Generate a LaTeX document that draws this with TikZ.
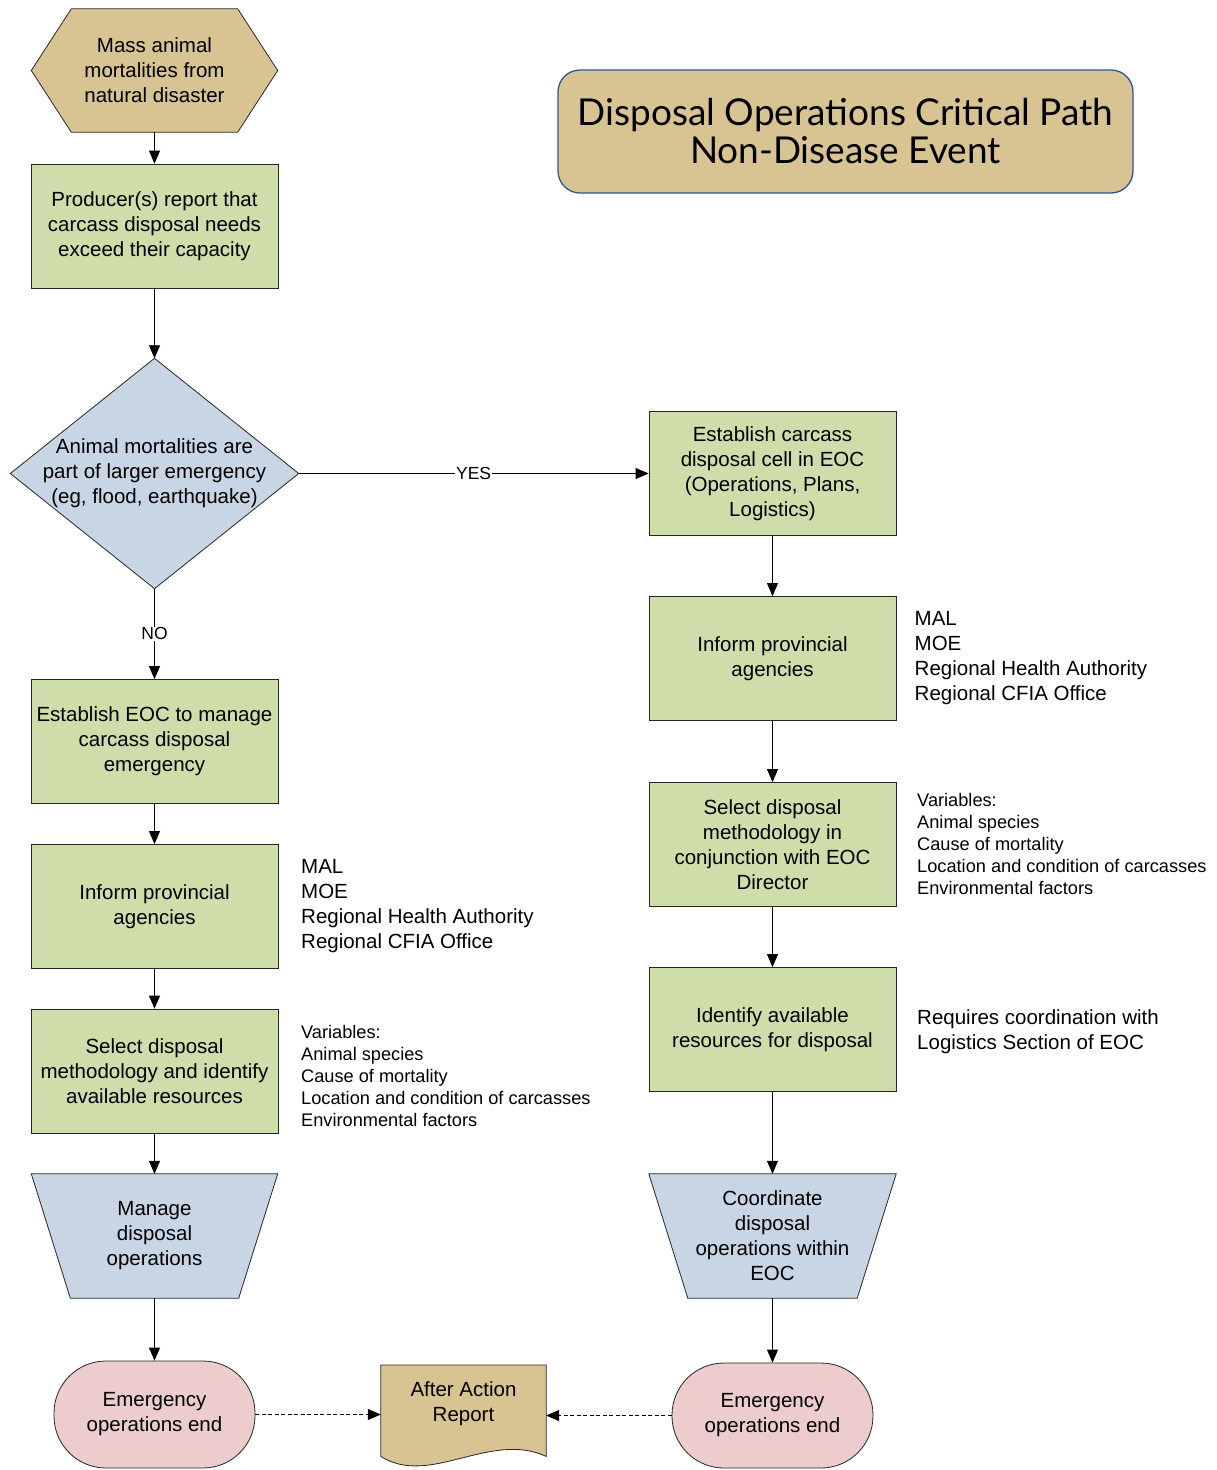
\documentclass[tikz,border=0pt]{standalone}
\usepackage{fontspec}
\setmainfont{Liberation Sans}
\newfontfamily\titlefont{Lato}
\usetikzlibrary{arrows.meta,calc,backgrounds}

\definecolor{stepgreen}{RGB}{206,221,170}
\definecolor{decisionblue}{RGB}{200,213,228}
\definecolor{eventtan}{RGB}{216,195,146}
\definecolor{endpink}{RGB}{236,204,204}
\definecolor{titleborder}{RGB}{47,85,151}

\begin{document}
\begin{tikzpicture}[x=1pt,y=-1pt,
  boxfont/.style={font=\fontsize{20.5}{25}\selectfont},
  notefont/.style={font=\fontsize{18.2}{22}\selectfont},
  outline/.style={draw=black!85, line width=0.8pt},
  stepbox/.style={outline, fill=stepgreen, boxfont, align=center, inner sep=0pt,
    minimum width=247pt, minimum height=124pt},
  ghost/.style={boxfont, align=center, inner sep=0pt},
  endbox/.style={outline, fill=endpink, boxfont, align=center, inner sep=0pt,
    minimum width=201pt, minimum height=107pt, rounded corners=52pt},
  note/.style={align=left, anchor=west, inner sep=0pt},
  conn/.style={-{Triangle[length=13pt,width=11pt]}, line width=0.8pt, black},
  dashconn/.style={conn, dash pattern=on 4pt off 2.5pt},
  branch/.style={fill=white, inner sep=1pt, font=\fontsize{17.5}{20}\selectfont}
]
\useasboundingbox (0,0) rectangle (1216,1470);

% title banner
\node[draw=titleborder, fill=eventtan, line width=1.3pt, rounded corners=22pt,
  minimum width=575pt, minimum height=123pt, align=center,
  font=\titlefont\fontsize{37}{38}\selectfont] (title) at (845.5,131.5)
  {Disposal Operations Critical Path\\Non-Disease Event};

% left column
\node[ghost, minimum width=246pt, minimum height=123pt] (start) at (154.5,70.5)
  {Mass animal\\mortalities from\\natural disaster};
\node[stepbox] (report) at (154.5,226) {Producer(s) report that\\carcass disposal needs\\exceed their capacity};
\node[ghost, minimum width=288pt, minimum height=230pt] (larger) at (154.5,473.5)
  {Animal mortalities are\\part of larger emergency\\(eg, flood, earthquake)};
\node[stepbox] (eoc) at (154.5,741.5) {Establish EOC to manage\\carcass disposal\\emergency};
\node[stepbox] (informL) at (154.5,906.5) {Inform provincial\\agencies};
\node[stepbox] (selectL) at (154.5,1071) {Select disposal\\methodology and identify\\available resources};
\node[ghost, minimum width=246pt, minimum height=124pt] (manage) at (154.5,1236)
  {Manage\\disposal\\operations};
\node[endbox] (endL) at (154.5,1414.5) {Emergency\\operations end};

% after action report
\node[ghost, anchor=north, minimum width=165pt, minimum height=77pt] (report2) at (463.5,1365)
  {After Action\\Report};

% right column
\node[stepbox] (cell) at (772.5,473.5) {Establish carcass\\disposal cell in EOC\\(Operations, Plans,\\Logistics)};
\node[stepbox] (informR) at (772.5,658.5) {Inform provincial\\agencies};
\node[stepbox] (selectR) at (772.5,844.5) {Select disposal\\methodology in\\conjunction with EOC\\Director};
\node[stepbox] (identify) at (772.5,1029.5) {Identify available\\resources for disposal};
\node[ghost, minimum width=247pt, minimum height=124pt] (coord) at (772.5,1236)
  {Coordinate\\disposal\\operations within\\EOC};
\node[endbox, minimum height=105pt] (endR) at (772.5,1415.5) {Emergency\\operations end};

% shapes drawn around the ghost nodes
\begin{pgfonlayer}{background}
  \path[outline, fill=eventtan] (start.west) -- ([xshift=40pt]start.north west)
    -- ([xshift=-40pt]start.north east) -- (start.east)
    -- ([xshift=-40pt]start.south east) -- ([xshift=40pt]start.south west) -- cycle;
  \path[outline, fill=decisionblue] (larger.north) -- (larger.east)
    -- (larger.south) -- (larger.west) -- cycle;
  \path[outline, fill=decisionblue] (manage.north west) -- (manage.north east)
    -- ([xshift=-39pt]manage.south east) -- ([xshift=39pt]manage.south west) -- cycle;
  \path[outline, fill=decisionblue] (coord.north west) -- (coord.north east)
    -- ([xshift=-39pt]coord.south east) -- ([xshift=39pt]coord.south west) -- cycle;
  \path[outline, fill=eventtan] (report2.north west) -- (report2.north east)
    -- ($(report2.south east)+(0,14)$)
    .. controls ($(report2.south east)+(-56,-12)$) and ($(report2.south west)+(49,45)$)
    .. ($(report2.south west)+(0,14)$) -- cycle;
\end{pgfonlayer}

% notes
\node[note, boxfont] (agL) at (301,906) {MAL\\MOE\\Regional Health Authority\\Regional CFIA Office};
\node[note, notefont] (varL) at (301,1076) {Variables:\\Animal species\\Cause of mortality\\Location and condition of carcasses\\Environmental factors};
\node[note, boxfont] (agR) at (914.5,658.5) {MAL\\MOE\\Regional Health Authority\\Regional CFIA Office};
\node[note, notefont] (varR) at (917,844) {Variables:\\Animal species\\Cause of mortality\\Location and condition of carcasses\\Environmental factors};
\node[note, boxfont] (logi) at (917,1031.5) {Requires coordination with\\Logistics Section of EOC};

% connectors
\draw[conn] (start.south) -- (report.north);
\draw[conn] (report.south) -- (larger.north);
\draw[conn] (larger.south) -- node[branch] {NO} (eoc.north);
\draw[conn] (eoc.south) -- (informL.north);
\draw[conn] (informL.south) -- (selectL.north);
\draw[conn] (selectL.south) -- (manage.north);
\draw[conn] (manage.south) -- (endL.north);
\draw[conn] (larger.east) -- node[branch] {YES} (larger.east -| cell.west);
\draw[conn] (cell.south) -- (informR.north);
\draw[conn] (informR.south) -- (selectR.north);
\draw[conn] (selectR.south) -- (identify.north);
\draw[conn] (identify.south) -- (coord.north);
\draw[conn] (coord.south) -- (endR.north);
\draw[dashconn] (endL.east) -- (endL.east -| report2.west);
\draw[dashconn] (endR.west) -- (endR.west -| report2.east);
\end{tikzpicture}
\end{document}
